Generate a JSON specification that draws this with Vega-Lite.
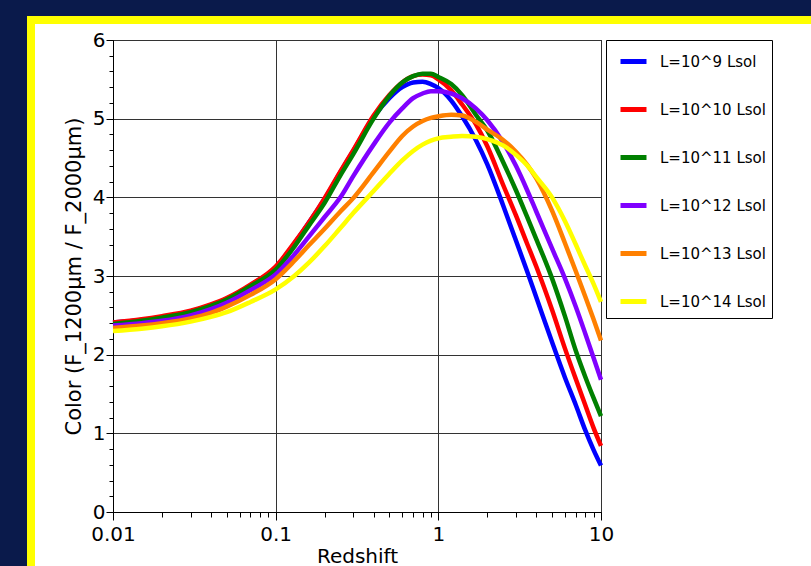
{
  "$schema": "https://vega.github.io/schema/vega-lite/v6.json",
  "background": "white",
  "padding": 0,
  "columns": 4,
  "spacing": 0,
  "bounds": "flush",
  "resolve": {"scale": {"color": "independent"}, "legend": {"color": "independent"}},
  "config": {"view": {"stroke": null}},
  "datasets": {
    "curves": [
      {"L":"L=10^9 Lsol","z":0.01,"c":2.41},{"L":"L=10^9 Lsol","z":0.015,"c":2.44},{"L":"L=10^9 Lsol","z":0.02,"c":2.48},{"L":"L=10^9 Lsol","z":0.03,"c":2.55},{"L":"L=10^9 Lsol","z":0.04,"c":2.63},{"L":"L=10^9 Lsol","z":0.05,"c":2.71},{"L":"L=10^9 Lsol","z":0.07,"c":2.88},{"L":"L=10^9 Lsol","z":0.1,"c":3.11},{"L":"L=10^9 Lsol","z":0.13,"c":3.41},{"L":"L=10^9 Lsol","z":0.16,"c":3.68},{"L":"L=10^9 Lsol","z":0.2,"c":3.98},{"L":"L=10^9 Lsol","z":0.25,"c":4.32},{"L":"L=10^9 Lsol","z":0.3,"c":4.59},{"L":"L=10^9 Lsol","z":0.4,"c":5.02},{"L":"L=10^9 Lsol","z":0.5,"c":5.26},{"L":"L=10^9 Lsol","z":0.6,"c":5.4},{"L":"L=10^9 Lsol","z":0.7,"c":5.46},{"L":"L=10^9 Lsol","z":0.8,"c":5.47},{"L":"L=10^9 Lsol","z":0.9,"c":5.44},{"L":"L=10^9 Lsol","z":1.0,"c":5.39},{"L":"L=10^9 Lsol","z":1.2,"c":5.23},{"L":"L=10^9 Lsol","z":1.4,"c":5.03},{"L":"L=10^9 Lsol","z":1.7,"c":4.73},{"L":"L=10^9 Lsol","z":2.0,"c":4.42},{"L":"L=10^9 Lsol","z":2.5,"c":3.9},{"L":"L=10^9 Lsol","z":3.0,"c":3.45},{"L":"L=10^9 Lsol","z":3.5,"c":3.07},{"L":"L=10^9 Lsol","z":4.0,"c":2.73},{"L":"L=10^9 Lsol","z":5.0,"c":2.16},{"L":"L=10^9 Lsol","z":6.0,"c":1.71},{"L":"L=10^9 Lsol","z":7.0,"c":1.36},{"L":"L=10^9 Lsol","z":8.0,"c":1.04},{"L":"L=10^9 Lsol","z":9.0,"c":0.79},{"L":"L=10^9 Lsol","z":10,"c":0.59},
      {"L":"L=10^10 Lsol","z":0.01,"c":2.41},{"L":"L=10^10 Lsol","z":0.015,"c":2.45},{"L":"L=10^10 Lsol","z":0.02,"c":2.49},{"L":"L=10^10 Lsol","z":0.03,"c":2.56},{"L":"L=10^10 Lsol","z":0.04,"c":2.64},{"L":"L=10^10 Lsol","z":0.05,"c":2.72},{"L":"L=10^10 Lsol","z":0.07,"c":2.89},{"L":"L=10^10 Lsol","z":0.1,"c":3.12},{"L":"L=10^10 Lsol","z":0.13,"c":3.42},{"L":"L=10^10 Lsol","z":0.16,"c":3.68},{"L":"L=10^10 Lsol","z":0.2,"c":3.99},{"L":"L=10^10 Lsol","z":0.25,"c":4.33},{"L":"L=10^10 Lsol","z":0.3,"c":4.6},{"L":"L=10^10 Lsol","z":0.4,"c":5.04},{"L":"L=10^10 Lsol","z":0.5,"c":5.3},{"L":"L=10^10 Lsol","z":0.6,"c":5.46},{"L":"L=10^10 Lsol","z":0.7,"c":5.54},{"L":"L=10^10 Lsol","z":0.8,"c":5.56},{"L":"L=10^10 Lsol","z":0.9,"c":5.55},{"L":"L=10^10 Lsol","z":1.0,"c":5.5},{"L":"L=10^10 Lsol","z":1.2,"c":5.36},{"L":"L=10^10 Lsol","z":1.4,"c":5.18},{"L":"L=10^10 Lsol","z":1.7,"c":4.93},{"L":"L=10^10 Lsol","z":2.0,"c":4.65},{"L":"L=10^10 Lsol","z":2.5,"c":4.16},{"L":"L=10^10 Lsol","z":3.0,"c":3.77},{"L":"L=10^10 Lsol","z":3.5,"c":3.42},{"L":"L=10^10 Lsol","z":4.0,"c":3.12},{"L":"L=10^10 Lsol","z":5.0,"c":2.57},{"L":"L=10^10 Lsol","z":6.0,"c":2.08},{"L":"L=10^10 Lsol","z":7.0,"c":1.69},{"L":"L=10^10 Lsol","z":8.0,"c":1.36},{"L":"L=10^10 Lsol","z":9.0,"c":1.07},{"L":"L=10^10 Lsol","z":10,"c":0.84},
      {"L":"L=10^11 Lsol","z":0.01,"c":2.39},{"L":"L=10^11 Lsol","z":0.015,"c":2.43},{"L":"L=10^11 Lsol","z":0.02,"c":2.47},{"L":"L=10^11 Lsol","z":0.03,"c":2.54},{"L":"L=10^11 Lsol","z":0.04,"c":2.62},{"L":"L=10^11 Lsol","z":0.05,"c":2.7},{"L":"L=10^11 Lsol","z":0.07,"c":2.87},{"L":"L=10^11 Lsol","z":0.1,"c":3.08},{"L":"L=10^11 Lsol","z":0.13,"c":3.37},{"L":"L=10^11 Lsol","z":0.16,"c":3.64},{"L":"L=10^11 Lsol","z":0.2,"c":3.93},{"L":"L=10^11 Lsol","z":0.25,"c":4.28},{"L":"L=10^11 Lsol","z":0.3,"c":4.55},{"L":"L=10^11 Lsol","z":0.4,"c":5.0},{"L":"L=10^11 Lsol","z":0.5,"c":5.29},{"L":"L=10^11 Lsol","z":0.6,"c":5.46},{"L":"L=10^11 Lsol","z":0.7,"c":5.54},{"L":"L=10^11 Lsol","z":0.8,"c":5.57},{"L":"L=10^11 Lsol","z":0.9,"c":5.57},{"L":"L=10^11 Lsol","z":1.0,"c":5.53},{"L":"L=10^11 Lsol","z":1.2,"c":5.44},{"L":"L=10^11 Lsol","z":1.4,"c":5.3},{"L":"L=10^11 Lsol","z":1.7,"c":5.05},{"L":"L=10^11 Lsol","z":2.0,"c":4.85},{"L":"L=10^11 Lsol","z":2.5,"c":4.45},{"L":"L=10^11 Lsol","z":3.0,"c":4.09},{"L":"L=10^11 Lsol","z":3.5,"c":3.76},{"L":"L=10^11 Lsol","z":4.0,"c":3.47},{"L":"L=10^11 Lsol","z":5.0,"c":2.97},{"L":"L=10^11 Lsol","z":6.0,"c":2.49},{"L":"L=10^11 Lsol","z":7.0,"c":2.05},{"L":"L=10^11 Lsol","z":8.0,"c":1.72},{"L":"L=10^11 Lsol","z":9.0,"c":1.45},{"L":"L=10^11 Lsol","z":10,"c":1.22},
      {"L":"L=10^12 Lsol","z":0.01,"c":2.37},{"L":"L=10^12 Lsol","z":0.015,"c":2.4},{"L":"L=10^12 Lsol","z":0.02,"c":2.43},{"L":"L=10^12 Lsol","z":0.03,"c":2.5},{"L":"L=10^12 Lsol","z":0.04,"c":2.58},{"L":"L=10^12 Lsol","z":0.05,"c":2.66},{"L":"L=10^12 Lsol","z":0.07,"c":2.82},{"L":"L=10^12 Lsol","z":0.1,"c":3.02},{"L":"L=10^12 Lsol","z":0.13,"c":3.27},{"L":"L=10^12 Lsol","z":0.16,"c":3.5},{"L":"L=10^12 Lsol","z":0.2,"c":3.75},{"L":"L=10^12 Lsol","z":0.25,"c":4.0},{"L":"L=10^12 Lsol","z":0.3,"c":4.27},{"L":"L=10^12 Lsol","z":0.4,"c":4.67},{"L":"L=10^12 Lsol","z":0.5,"c":4.95},{"L":"L=10^12 Lsol","z":0.6,"c":5.13},{"L":"L=10^12 Lsol","z":0.7,"c":5.26},{"L":"L=10^12 Lsol","z":0.8,"c":5.32},{"L":"L=10^12 Lsol","z":0.9,"c":5.35},{"L":"L=10^12 Lsol","z":1.0,"c":5.35},{"L":"L=10^12 Lsol","z":1.2,"c":5.32},{"L":"L=10^12 Lsol","z":1.4,"c":5.26},{"L":"L=10^12 Lsol","z":1.7,"c":5.13},{"L":"L=10^12 Lsol","z":2.0,"c":4.98},{"L":"L=10^12 Lsol","z":2.5,"c":4.7},{"L":"L=10^12 Lsol","z":3.0,"c":4.4},{"L":"L=10^12 Lsol","z":3.5,"c":4.1},{"L":"L=10^12 Lsol","z":4.0,"c":3.82},{"L":"L=10^12 Lsol","z":5.0,"c":3.35},{"L":"L=10^12 Lsol","z":6.0,"c":2.97},{"L":"L=10^12 Lsol","z":7.0,"c":2.61},{"L":"L=10^12 Lsol","z":8.0,"c":2.27},{"L":"L=10^12 Lsol","z":9.0,"c":1.96},{"L":"L=10^12 Lsol","z":10,"c":1.68},
      {"L":"L=10^13 Lsol","z":0.01,"c":2.34},{"L":"L=10^13 Lsol","z":0.015,"c":2.37},{"L":"L=10^13 Lsol","z":0.02,"c":2.4},{"L":"L=10^13 Lsol","z":0.03,"c":2.46},{"L":"L=10^13 Lsol","z":0.04,"c":2.53},{"L":"L=10^13 Lsol","z":0.05,"c":2.61},{"L":"L=10^13 Lsol","z":0.07,"c":2.76},{"L":"L=10^13 Lsol","z":0.1,"c":2.96},{"L":"L=10^13 Lsol","z":0.13,"c":3.19},{"L":"L=10^13 Lsol","z":0.16,"c":3.39},{"L":"L=10^13 Lsol","z":0.2,"c":3.6},{"L":"L=10^13 Lsol","z":0.25,"c":3.82},{"L":"L=10^13 Lsol","z":0.3,"c":3.99},{"L":"L=10^13 Lsol","z":0.4,"c":4.32},{"L":"L=10^13 Lsol","z":0.5,"c":4.58},{"L":"L=10^13 Lsol","z":0.6,"c":4.78},{"L":"L=10^13 Lsol","z":0.7,"c":4.9},{"L":"L=10^13 Lsol","z":0.8,"c":4.97},{"L":"L=10^13 Lsol","z":0.9,"c":5.01},{"L":"L=10^13 Lsol","z":1.0,"c":5.03},{"L":"L=10^13 Lsol","z":1.2,"c":5.05},{"L":"L=10^13 Lsol","z":1.4,"c":5.04},{"L":"L=10^13 Lsol","z":1.7,"c":4.96},{"L":"L=10^13 Lsol","z":2.0,"c":4.86},{"L":"L=10^13 Lsol","z":2.5,"c":4.73},{"L":"L=10^13 Lsol","z":3.0,"c":4.58},{"L":"L=10^13 Lsol","z":3.5,"c":4.42},{"L":"L=10^13 Lsol","z":4.0,"c":4.24},{"L":"L=10^13 Lsol","z":5.0,"c":3.83},{"L":"L=10^13 Lsol","z":6.0,"c":3.42},{"L":"L=10^13 Lsol","z":7.0,"c":3.06},{"L":"L=10^13 Lsol","z":8.0,"c":2.74},{"L":"L=10^13 Lsol","z":9.0,"c":2.45},{"L":"L=10^13 Lsol","z":10,"c":2.18},
      {"L":"L=10^14 Lsol","z":0.01,"c":2.3},{"L":"L=10^14 Lsol","z":0.015,"c":2.33},{"L":"L=10^14 Lsol","z":0.02,"c":2.36},{"L":"L=10^14 Lsol","z":0.03,"c":2.42},{"L":"L=10^14 Lsol","z":0.04,"c":2.48},{"L":"L=10^14 Lsol","z":0.05,"c":2.54},{"L":"L=10^14 Lsol","z":0.07,"c":2.67},{"L":"L=10^14 Lsol","z":0.1,"c":2.83},{"L":"L=10^14 Lsol","z":0.13,"c":3.0},{"L":"L=10^14 Lsol","z":0.16,"c":3.17},{"L":"L=10^14 Lsol","z":0.2,"c":3.38},{"L":"L=10^14 Lsol","z":0.25,"c":3.61},{"L":"L=10^14 Lsol","z":0.3,"c":3.8},{"L":"L=10^14 Lsol","z":0.4,"c":4.08},{"L":"L=10^14 Lsol","z":0.5,"c":4.3},{"L":"L=10^14 Lsol","z":0.6,"c":4.47},{"L":"L=10^14 Lsol","z":0.7,"c":4.59},{"L":"L=10^14 Lsol","z":0.8,"c":4.67},{"L":"L=10^14 Lsol","z":0.9,"c":4.72},{"L":"L=10^14 Lsol","z":1.0,"c":4.75},{"L":"L=10^14 Lsol","z":1.2,"c":4.77},{"L":"L=10^14 Lsol","z":1.4,"c":4.78},{"L":"L=10^14 Lsol","z":1.7,"c":4.77},{"L":"L=10^14 Lsol","z":2.0,"c":4.74},{"L":"L=10^14 Lsol","z":2.5,"c":4.66},{"L":"L=10^14 Lsol","z":3.0,"c":4.54},{"L":"L=10^14 Lsol","z":3.5,"c":4.41},{"L":"L=10^14 Lsol","z":4.0,"c":4.26},{"L":"L=10^14 Lsol","z":5.0,"c":4.0},{"L":"L=10^14 Lsol","z":6.0,"c":3.7},{"L":"L=10^14 Lsol","z":7.0,"c":3.4},{"L":"L=10^14 Lsol","z":8.0,"c":3.13},{"L":"L=10^14 Lsol","z":9.0,"c":2.9},{"L":"L=10^14 Lsol","z":10,"c":2.67}
    ]
  },
  "concat": [
    {"data": {"values": []}, "mark": "point", "width": 27, "height": 16, "view": {"fill": "#0a1a4b", "stroke": null}},
    {"data": {"values": []}, "mark": "point", "width": 8, "height": 16, "view": {"fill": "#0a1a4b", "stroke": null}},
    {"data": {"values": []}, "mark": "point", "width": 78, "height": 16, "view": {"fill": "#0a1a4b", "stroke": null}},
    {"data": {"values": []}, "mark": "point", "width": 698, "height": 16, "view": {"fill": "#0a1a4b", "stroke": null}},

    {"data": {"values": []}, "mark": "point", "width": 27, "height": 8, "view": {"fill": "#0a1a4b", "stroke": null}},
    {"data": {"values": []}, "mark": "point", "width": 8, "height": 8, "view": {"fill": "#ffff00", "stroke": null}},
    {"data": {"values": []}, "mark": "point", "width": 78, "height": 8, "view": {"fill": "#ffff00", "stroke": null}},
    {"data": {"values": []}, "mark": "point", "width": 698, "height": 8, "view": {"fill": "#ffff00", "stroke": null}},

    {"data": {"values": []}, "mark": "point", "width": 27, "height": 16, "view": {"fill": "#0a1a4b", "stroke": null}},
    {"data": {"values": []}, "mark": "point", "width": 8, "height": 16, "view": {"fill": "#ffff00", "stroke": null}},
    {"data": {"values": []}, "mark": "point", "width": 1, "height": 1, "view": {"stroke": null}},
    {"data": {"values": []}, "mark": "point", "width": 1, "height": 1, "view": {"stroke": null}},

    {"data": {"values": []}, "mark": "point", "width": 27, "height": 526, "view": {"fill": "#0a1a4b", "stroke": null}},
    {"data": {"values": []}, "mark": "point", "width": 8, "height": 526, "view": {"fill": "#ffff00", "stroke": null}},
    {"data": {"values": []}, "mark": "point", "width": 1, "height": 1, "view": {"stroke": null}},
    {
      "width": 488,
      "height": 472,
      "data": {"name": "curves"},
      "view": {"stroke": "black", "strokeWidth": 1, "fill": "white"},
      "mark": {"type": "line", "strokeWidth": 4.5, "interpolate": "monotone"},
      "encoding": {
        "x": {
          "field": "z", "type": "quantitative",
          "scale": {"type": "log", "domain": [0.01, 10], "nice": false},
          "axis": {
            "title": "Redshift",
            "values": [0.01,0.02,0.03,0.04,0.05,0.06,0.07,0.08,0.09,0.1,0.2,0.3,0.4,0.5,0.6,0.7,0.8,0.9,1,2,3,4,5,6,7,8,9,10],
            "labelExpr": "indexof([0.01,0.1,1,10], datum.value) >= 0 ? format(datum.value, '~g') : ''",
            "labelOverlap": false, "labelFlush": false, "labelBound": false,
            "grid": true, "gridColor": "#333333", "gridWidth": 1,
            "gridOpacity": {"condition": {"test": "indexof([0.01,0.1,1,10], datum.value) >= 0", "value": 1}, "value": 0},
            "tickSize": {"condition": {"test": "indexof([0.01,0.1,1,10], datum.value) >= 0", "value": 8}, "value": 5},
            "tickColor": "black", "tickWidth": 1, "domainColor": "black", "domainWidth": 1,
            "labelFont": "DejaVu Sans", "labelFontSize": 20, "labelColor": "black", "labelPadding": 4,
            "titleFont": "DejaVu Sans", "titleFontSize": 20, "titleFontWeight": "normal", "titleColor": "black", "titlePadding": 2
          }
        },
        "y": {
          "field": "c", "type": "quantitative",
          "scale": {"domain": [0, 6], "nice": false, "zero": false},
          "axis": {
            "title": "Color (F_1200μm / F_2000μm)",
            "values": [0,0.2,0.4,0.6,0.8,1,1.2,1.4,1.6,1.8,2,2.2,2.4,2.6,2.8,3,3.2,3.4,3.6,3.8,4,4.2,4.4,4.6,4.8,5,5.2,5.4,5.6,5.8,6],
            "labelExpr": "datum.value % 1 == 0 ? format(datum.value, 'd') : ''",
            "labelOverlap": false, "labelFlush": false, "labelBound": false,
            "grid": true, "gridColor": "#333333", "gridWidth": 1,
            "gridOpacity": {"condition": {"test": "datum.value % 1 == 0", "value": 1}, "value": 0},
            "tickSize": {"condition": {"test": "datum.value % 1 == 0", "value": 7}, "value": 4},
            "tickColor": "black", "tickWidth": 1, "domainColor": "black", "domainWidth": 1,
            "labelFont": "DejaVu Sans", "labelFontSize": 20, "labelColor": "black", "labelPadding": 1,
            "titleFont": "DejaVu Sans", "titleFontSize": 21, "titleFontWeight": "normal", "titleColor": "black", "titlePadding": 8
          }
        },
        "color": {
          "field": "L", "type": "nominal",
          "scale": {
            "domain": ["L=10^9 Lsol","L=10^10 Lsol","L=10^11 Lsol","L=10^12 Lsol","L=10^13 Lsol","L=10^14 Lsol"],
            "range": ["#0000ff","#ff0000","#008000","#8000ff","#ff8000","#ffff00"]
          },
          "legend": {
            "title": null, "orient": "right", "offset": -4, "padding": 6,
            "strokeColor": "black", "fillColor": "white",
            "symbolType": "stroke", "symbolSize": 676, "symbolStrokeWidth": 5, "symbolOffset": 6,
            "labelFont": "DejaVu Sans", "labelFontSize": 15, "labelColor": "black", "labelOffset": 11,
            "rowPadding": 22
          }
        }
      }
    }
  ]
}
